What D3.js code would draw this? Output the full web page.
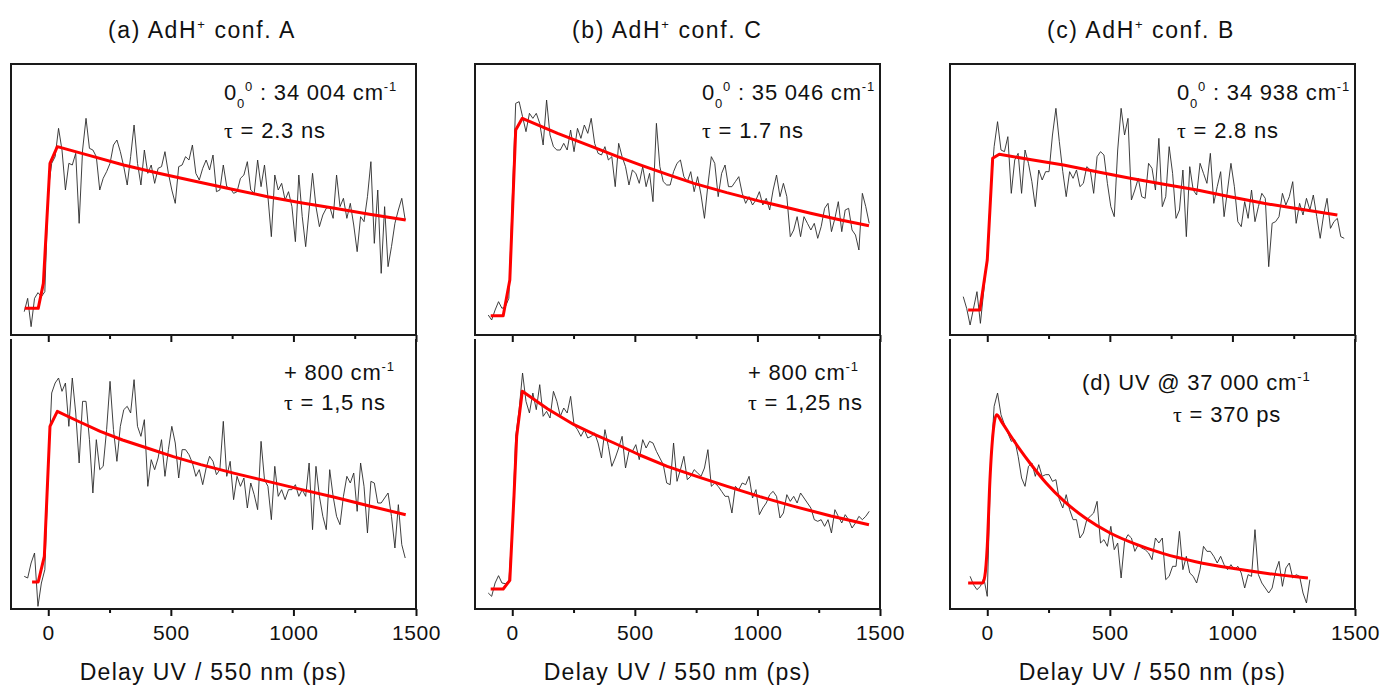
<!DOCTYPE html>
<html>
<head>
<meta charset="utf-8">
<script src="https://cdn.jsdelivr.net/npm/d3@7/dist/d3.min.js"></script>
<style>
  body { margin: 0; background: #fff; }
  svg text { font-family: "Liberation Sans", Arial, sans-serif; fill: #111; }
</style>
</head>
<body>
<div id="chart"></div>
<script>

// delay grid (ps) of the pump-probe scans
const delays = [-98, -84, -70, -56, -42, -28, -14, 0, 14, 28, 42, 56, 70, 84, 98, 112, 126, 140, 154, 168,
  182, 196, 210, 224, 238, 252, 266, 280, 294, 308, 322, 336, 350, 364, 378, 392, 406, 420, 434, 448,
  462, 476, 490, 504, 518, 532, 546, 560, 574, 588, 602, 616, 630, 644, 658, 672, 686, 700, 714, 728,
  742, 756, 770, 784, 798, 812, 826, 840, 854, 868, 882, 896, 910, 924, 938, 952, 966, 980, 994, 1008,
  1022, 1036, 1050, 1064, 1078, 1092, 1106, 1120, 1134, 1148, 1162, 1176, 1190, 1204, 1218, 1232, 1246, 1260, 1274, 1288,
  1302, 1316, 1330, 1344, 1358, 1372, 1386, 1400, 1414, 1428, 1442, 1456];

// signals (arb. units)
const sigA1 = [7.0, 11.0, 2.5, 11.0, 12.7, 11.5, 13.0, 43.5, 51.5, 53.5,
  62.0, 55.5, 43.5, 51.5, 51.0, 54.5, 33.5, 55.5, 65.0, 56.0,
  55.5, 53.5, 43.5, 47.0, 49.0, 51.5, 57.0, 58.5, 55.0, 50.5,
  45.0, 53.5, 63.0, 51.5, 45.0, 55.5, 48.5, 51.0, 45.5, 50.0,
  50.5, 55.0, 48.5, 43.5, 39.5, 50.5, 51.0, 53.5, 52.5, 57.0,
  48.5, 46.5, 50.0, 52.5, 49.5, 54.0, 43.0, 43.5, 51.0, 44.5,
  44.0, 42.5, 43.0, 47.0, 48.0, 52.0, 43.5, 42.5, 52.5, 44.5,
  51.0, 41.5, 29.5, 48.0, 43.5, 45.5, 40.5, 43.0, 38.5, 28.0,
  48.0, 35.5, 26.5, 37.5, 48.5, 38.5, 32.5, 36.0, 38.0, 38.5,
  35.0, 48.0, 38.5, 41.0, 35.0, 39.5, 33.0, 25.0, 35.5, 34.0,
  41.5, 52.0, 27.5, 43.5, 18.5, 38.5, 20.5, 26.5, 33.5, 37.5,
  41.0, 34.5];
const sigA2 = [9.8, 9.3, 13.8, 16.8, 0.8, 7.8, 11.8, 41.8, 64.8, 67.8,
  69.3, 65.3, 67.8, 54.8, 69.3, 58.8, 43.8, 62.3, 62.3, 50.8,
  34.8, 50.8, 41.8, 42.8, 53.8, 68.3, 53.8, 44.3, 54.8, 59.8,
  60.8, 58.8, 68.8, 54.8, 51.8, 56.8, 36.8, 44.8, 41.8, 45.3,
  50.8, 39.8, 47.8, 54.8, 49.8, 39.3, 47.8, 47.8, 46.3, 43.8,
  39.8, 41.8, 37.3, 42.3, 45.8, 44.3, 40.3, 41.8, 56.3, 39.8,
  44.3, 32.8, 39.8, 36.8, 39.3, 30.3, 37.8, 34.3, 29.8, 50.3,
  38.8, 36.8, 26.8, 42.8, 33.8, 35.8, 32.8, 35.8, 35.8, 37.3,
  33.8, 35.8, 33.8, 43.8, 23.8, 42.8, 33.8, 27.8, 23.8, 41.8,
  33.8, 27.8, 25.3, 33.8, 39.8, 37.8, 40.8, 29.3, 43.8, 36.8,
  22.8, 38.3, 37.8, 31.8, 31.8, 33.3, 34.8, 27.8, 18.3, 31.3,
  19.3, 15.3];
const sigB1 = [6.0, 4.5, 7.5, 10.0, 8.0, 8.5, 11.0, 40.5, 69.5, 70.0,
  65.5, 61.0, 66.5, 65.0, 66.5, 63.5, 57.0, 70.5, 60.0, 56.5,
  55.5, 55.5, 57.5, 55.5, 61.5, 55.0, 62.0, 59.0, 63.0, 60.5,
  65.0, 57.5, 54.5, 54.0, 56.5, 52.5, 53.5, 44.5, 57.5, 53.5,
  50.5, 45.0, 49.5, 48.5, 45.5, 50.5, 44.5, 48.5, 40.0, 63.5,
  50.5, 46.0, 45.0, 45.0, 49.0, 51.5, 52.5, 47.5, 46.0, 49.0,
  43.0, 47.5, 42.0, 35.0, 45.0, 53.5, 51.5, 41.5, 48.5, 51.0,
  44.5, 44.5, 46.0, 47.5, 42.5, 39.5, 41.5, 39.0, 40.5, 43.0,
  39.0, 41.0, 37.5, 43.5, 48.0, 41.5, 45.5, 41.5, 29.5, 31.5,
  35.5, 29.5, 35.5, 33.5, 31.5, 33.5, 29.0, 32.5, 38.0, 39.5,
  31.0, 35.0, 40.0, 31.0, 37.5, 38.0, 31.5, 30.0, 25.5, 42.5,
  38.5, 33.5];
const sigB2 = [4.8, 3.8, 7.8, 10.0, 7.8, 7.6, 8.3, 23.8, 51.8, 59.8,
  70.8, 62.3, 58.8, 64.8, 59.8, 67.3, 57.8, 59.3, 57.3, 65.3,
  62.3, 57.8, 60.3, 58.8, 63.8, 55.3, 53.8, 51.8, 53.8, 51.3,
  51.8, 52.8, 49.8, 45.3, 53.8, 48.8, 42.8, 45.3, 48.3, 51.8,
  42.3, 47.3, 47.3, 49.3, 44.8, 50.8, 48.3, 50.3, 49.8, 47.3,
  45.3, 43.3, 37.8, 37.3, 49.8, 38.3, 41.8, 45.8, 38.8, 39.8,
  41.8, 40.8, 39.8, 42.3, 47.8, 36.8, 37.8, 36.8, 35.3, 33.8,
  33.8, 28.8, 36.8, 35.8, 37.8, 37.3, 39.8, 33.3, 35.8, 28.3,
  30.3, 31.8, 34.3, 35.3, 33.8, 27.3, 28.8, 34.3, 32.3, 33.8,
  31.8, 34.8, 33.3, 31.8, 30.3, 26.8, 26.3, 26.8, 24.8, 26.8,
  22.8, 29.8, 27.8, 25.8, 28.3, 26.8, 24.3, 25.8, 27.8, 26.8,
  27.8, 29.3];
const sigC1 = [11.5, 8.0, 3.0, 8.0, 13.0, 3.5, 13.5, 23.5, 43.5, 56.5,
  64.0, 55.5, 55.0, 59.5, 42.5, 52.5, 54.5, 42.5, 55.5, 51.5,
  46.0, 38.5, 49.5, 46.5, 49.0, 49.0, 60.0, 68.0, 58.0, 49.0,
  41.5, 49.0, 47.0, 49.5, 44.5, 45.5, 50.5, 49.5, 42.5, 53.5,
  55.0, 54.0, 45.5, 38.5, 35.5, 55.5, 68.0, 60.0, 65.0, 40.5,
  43.5, 47.0, 41.5, 41.0, 51.5, 50.0, 43.5, 59.0, 38.5, 41.5,
  56.5, 48.5, 35.0, 37.5, 49.5, 29.5, 50.5, 43.5, 42.0, 51.5,
  48.5, 45.5, 54.5, 39.5, 44.5, 49.0, 35.5, 43.5, 51.5, 44.5,
  34.0, 32.5, 40.0, 35.0, 43.5, 34.0, 38.5, 42.5, 41.0, 20.5,
  33.5, 34.0, 35.5, 42.5, 39.0, 41.5, 46.0, 33.5, 39.5, 36.0,
  41.0, 37.5, 42.0, 35.5, 29.0, 36.0, 41.0, 32.0, 34.0, 35.0,
  29.5, 29.0];
// UV @ 37 000 scan starts at -70 ps and stops at 1316 ps
const delaysD = delays.slice(2, 102);
const sigD = [9.8, 7.3, 5.8, 6.8, 9.3, 3.8, 43.8, 60.8, 64.8, 58.3,
  55.3, 52.8, 50.3, 50.8, 45.8, 39.3, 36.8, 42.8, 43.8, 39.8,
  43.3, 39.8, 40.3, 40.3, 38.3, 38.8, 32.8, 30.3, 34.3, 29.8,
  26.8, 26.8, 21.3, 22.8, 26.8, 27.8, 28.8, 32.3, 19.8, 20.8,
  18.8, 24.8, 17.8, 19.8, 9.3, 20.3, 22.3, 21.3, 17.3, 19.3,
  18.3, 17.8, 16.8, 14.8, 21.3, 19.8, 21.3, 8.8, 9.8, 12.8,
  12.8, 23.3, 11.8, 15.8, 10.8, 9.8, 7.8, 11.8, 18.8, 17.3,
  17.3, 15.8, 13.8, 15.8, 13.3, 11.8, 13.3, 11.8, 12.8, 10.8,
  6.3, 10.3, 9.8, 23.8, 10.3, 7.8, 6.3, 4.8, 6.3, 11.3,
  14.3, 6.8, 12.3, 13.8, 9.3, 10.3, 9.8, 4.8, 1.8, 8.8];

// fitted curves, [delay ps, signal]; rise + peak are sharp, decay read every ~150 ps
const fitA1 = [[-96, 8], [-41, 8], [-20, 15.5], [7, 51.5], [37, 56.5], [170, 53.8], [307, 51.0], [450, 48.5], [594, 46.2], [745, 43.8], [895, 41.5], [1030, 39.7], [1168, 38.0], [1310, 36.2], [1458, 34.5]];
const fitA2 = [[-66, 8.1], [-41, 8.1], [-16, 15.8], [7, 54.8], [37, 59.3], [120, 56.4], [212, 53.3], [303, 50.7], [403, 48.3], [510, 45.7], [622, 43.3], [760, 40.7], [895, 38.3], [1030, 35.9], [1168, 33.5], [1310, 30.9], [1458, 28.3]];
const fitB1 = [[-88, 5.8], [-37, 5.8], [-10, 16.5], [14, 61.5], [41, 65.0], [185, 60.5], [333, 56.3], [430, 53.5], [530, 50.8], [635, 48.1], [741, 45.5], [875, 42.7], [1013, 40.1], [1115, 38.3], [1217, 36.5], [1335, 34.6], [1455, 32.8]];
const fitB2 = [[-88, 6.0], [-37, 6.0], [-10, 8.6], [7, 33.8], [18, 51.8], [41, 65.3], [145, 60.0], [252, 55.3], [335, 52.4], [415, 49.8], [520, 46.2], [632, 42.8], [755, 39.7], [877, 36.8], [1010, 33.7], [1149, 30.8], [1300, 27.9], [1455, 25.3]];
const fitC1 = [[-78, 7.5], [-30, 7.5], [0, 22.5], [22, 53.0], [49, 54.2], [180, 52.6], [311, 51.0], [447, 49.0], [583, 47.0], [720, 45.2], [856, 43.5], [990, 41.5], [1128, 39.5], [1280, 37.7], [1428, 36.0]];
const fitD = [[-78, 7.8], [-19, 7.8], [-10, 9.8], [0, 18.8], [11, 38.8], [25, 53.8], [38, 58.3], [60, 56.0], [93, 52.2], [130, 48.2], [174, 43.8], [240, 37.8], [311, 32.5], [400, 27.3], [501, 22.8], [600, 19.6], [719, 16.6], [850, 14.2], [1000, 12.2], [1150, 10.6], [1308, 9.3]];

// labels
const columnTitles = [["(a) AdH", "conf. A"], ["(b) AdH", "conf. C"], ["(c) AdH", "conf. B"]];
const originBands = ["34 004", "35 046", "34 938"];
const tauLabels = ["2.3 ns", "1,5 ns", "1.7 ns", "1,25 ns", "2.8 ns", "370 ps"];
const xTicks = [0, 500, 1000, 1500];
const xMinorTicks = [250, 750, 1250];
const xLabel = "Delay UV / 550 nm (ps)";

// layout
const width = 1381, height = 687;
const colLeft = [11, 475, 950], panelW = 405;
const rowTop = [64, 339], rowBottom = [335, 609];
const yMax = [81.3, 81];

let svg = d3.select("#chart")
  .append("svg")
    .attr("width", width)
    .attr("height", height);

let panels = [
  {col: 0, row: 0, t: delays, s: sigA1, fit: fitA1, tau: tauLabels[0]},
  {col: 0, row: 1, t: delays, s: sigA2, fit: fitA2, tau: tauLabels[1]},
  {col: 1, row: 0, t: delays, s: sigB1, fit: fitB1, tau: tauLabels[2]},
  {col: 1, row: 1, t: delays, s: sigB2, fit: fitB2, tau: tauLabels[3]},
  {col: 2, row: 0, t: delays, s: sigC1, fit: fitC1, tau: tauLabels[4]},
  {col: 2, row: 1, t: delaysD, s: sigD, fit: fitD, tau: tauLabels[5], smooth: true}
];

// write a line made of pieces, some of them sub/superscript
function richText(x, y, parts, size, spacing) {
  let t = svg.append("text")
    .attr("x", x).attr("y", y)
    .style("font-size", size + "px")
    .style("letter-spacing", spacing + "px");
  let shift = 0;
  parts.forEach(function(p) {
    let sp = t.append("tspan").text(p.text);
    let target = p.shift || 0;
    sp.attr("dy", target - shift);
    shift = target;
    if (p.size) sp.style("font-size", p.size + "px");
    if (p.font) sp.style("font-family", p.font);
  });
  return t;
}

panels.forEach(function(p) {
  let left = colLeft[p.col];
  let x = d3.scaleLinear().domain([-152, 1500]).range([left, left + panelW]);
  let y = d3.scaleLinear().domain([0, yMax[p.row]]).range([rowBottom[p.row], rowTop[p.row]]);

  // raw trace
  let line = d3.line().x(function(d) { return x(d[0]); }).y(function(d) { return y(d[1]); });
  svg.append("path")
    .attr("d", line(d3.zip(p.t, p.s)))
    .style("fill", "none")
    .style("stroke", "#2a2a2a")
    .style("stroke-width", 0.9);

  // fit
  let fitLine = d3.line()
    .x(function(d) { return x(d[0]); })
    .y(function(d) { return y(d[1]); })
    .curve(p.smooth ? d3.curveMonotoneX : d3.curveLinear);
  svg.append("path")
    .attr("d", fitLine(p.fit))
    .style("fill", "none")
    .style("stroke", "#ff0000")
    .style("stroke-width", 3)
    .style("stroke-linejoin", "round");

  // x axis, ticks pointing out
  let showLabels = p.row == 1;
  svg.append("g")
    .attr("transform", "translate(0," + rowBottom[p.row] + ")")
    .style("color", "#111")
    .call(d3.axisBottom(x).tickValues(xTicks).tickSize(7).tickSizeOuter(0).tickPadding(9)
      .tickFormat(showLabels ? d3.format("d") : ""))
    .attr("font-size", 21)
    .attr("font-family", "Liberation Sans, Arial, sans-serif")
    .call(function(g) { g.select(".domain").remove(); })
    .call(function(g) { g.selectAll(".tick line").style("stroke-width", 2); })
    .call(function(g) { g.selectAll(".tick text").style("font-size", "21px").style("letter-spacing", "0.6px"); });
  svg.append("g")
    .attr("transform", "translate(0," + rowBottom[p.row] + ")")
    .style("color", "#111")
    .call(d3.axisBottom(x).tickValues(xMinorTicks).tickSize(4).tickSizeOuter(0).tickFormat(""))
    .call(function(g) { g.select(".domain").remove(); })
    .call(function(g) { g.selectAll(".tick line").style("stroke-width", 2); });

  // frame (lower panels have no top edge)
  let r = left + panelW;
  let frame = p.row == 0
    ? "M" + left + "," + rowTop[0] + "H" + r + "V" + rowBottom[0] + "H" + left + "Z"
    : "M" + left + "," + rowTop[1] + "V" + rowBottom[1] + "H" + r + "V" + rowTop[1];
  svg.append("path")
    .attr("d", frame)
    .style("fill", "none")
    .style("stroke", "#1a1a1a")
    .style("stroke-width", 2);

  if (showLabels) {
    svg.append("text")
      .attr("x", left + panelW / 2)
      .attr("y", 680)
      .attr("text-anchor", "middle")
      .style("font-size", "23px")
      .style("letter-spacing", "1.3px")
      .text(xLabel);
  }
});

// column titles
columnTitles.forEach(function(c, i) {
  richText(colLeft[i] + 97, 38, [
    {text: c[0]},
    {text: "+", shift: -9, size: 13},
    {text: " " + c[1]}
  ], 23, 1.6);
});

// annotations, upper row
const topAnnX = [224, 702, 1177];
originBands.forEach(function(b, i) {
  richText(topAnnX[i], 100, [
    {text: "0"},
    {text: "0", shift: 8, size: 13},
    {text: "0", shift: -9, size: 13},
    {text: " : " + b + " cm"},
    {text: "-1", shift: -9, size: 13}
  ], 22, 0.8);
});
[0, 2, 4].forEach(function(k, i) {
  richText(topAnnX[i], 138, [
    {text: "\u03c4", font: "Liberation Serif, serif"},
    {text: " = " + panels[k].tau}
  ], 22, 0.8);
});

// annotations, lower row
[284, 748].forEach(function(xx, i) {
  richText(xx, 380, [
    {text: "+ 800 cm"},
    {text: "-1", shift: -9, size: 13}
  ], 22, 0.8);
  richText(xx, 410, [
    {text: "\u03c4", font: "Liberation Serif, serif"},
    {text: " = " + panels[2 * i + 1].tau}
  ], 22, 0.8);
});
richText(1082, 390, [
  {text: "(d) UV @ 37 000 cm"},
  {text: "-1", shift: -9, size: 13}
], 22, 0.8);
richText(1173, 422, [
  {text: "\u03c4", font: "Liberation Serif, serif"},
  {text: " = " + panels[5].tau}
], 22, 0.8);

</script>
</body>
</html>
